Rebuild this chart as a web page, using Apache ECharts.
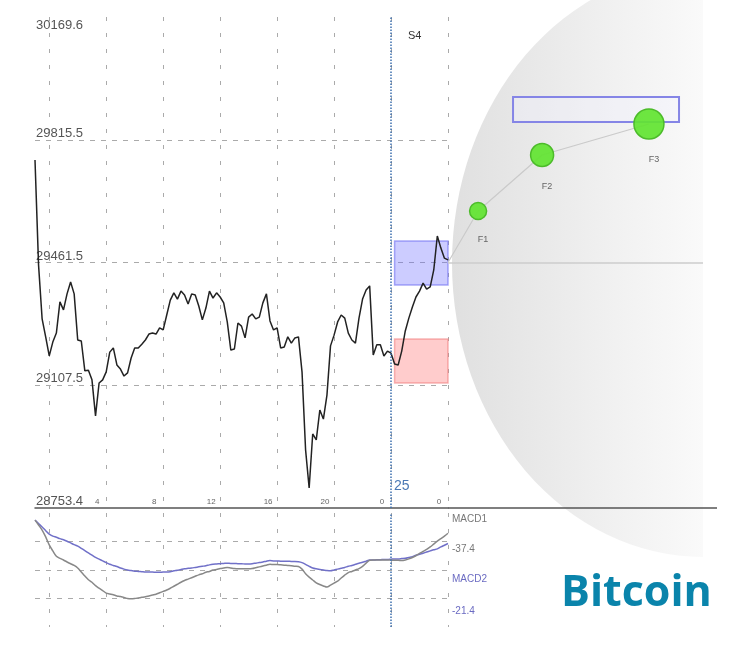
<!DOCTYPE html>
<html>
<head>
<meta charset="utf-8">
<script src="https://cdn.jsdelivr.net/npm/echarts@6/dist/echarts.min.js"></script>
<style>
html,body{margin:0;padding:0;background:#fff;}
#main{width:750px;height:650px;}
</style>
</head>
<body>
<div id="main"></div>
<script>
// price, 15 min steps
var prices = [29757,29454,29299,29247,29192,29232,29258,29348,29325,29371,
  29405,29371,29238,29235,29149,29151,29123,29019,29114,29123,
  29146,29203,29215,29166,29154,29134,29143,29186,29215,29215,
  29226,29238,29255,29258,29255,29273,29267,29310,29353,29374,
  29356,29379,29368,29342,29371,29368,29336,29296,29330,29379,
  29359,29374,29362,29345,29290,29209,29212,29287,29278,29244,
  29304,29313,29299,29304,29345,29371,29293,29267,29273,29215,
  29218,29247,29229,29244,29247,29146,28921,28811,28967,28950,
  29036,29010,29079,29221,29252,29290,29310,29301,29258,29238,
  29229,29301,29356,29382,29394,29195,29224,29224,29192,29206,
  29200,29169,29166,29206,29264,29301,29333,29362,29379,29402,
  29385,29391,29440,29538,29503,29474,29469];

var macd1 = [-0.25,-0.42,-0.60,-0.84,-1.12,-1.33,-1.52,-1.59,-1.65,-1.72,
  -1.78,-1.84,-1.93,-2.07,-2.21,-2.34,-2.43,-2.55,-2.64,-2.72,
  -2.81,-2.84,-2.87,-2.91,-2.93,-2.96,-3.00,-3.01,-3.00,-2.98,
  -2.96,-2.94,-2.91,-2.88,-2.85,-2.80,-2.75,-2.70,-2.64,-2.57,
  -2.50,-2.43,-2.37,-2.32,-2.27,-2.22,-2.17,-2.13,-2.08,-2.05,
  -2.00,-1.98,-1.95,-1.93,-1.91,-1.93,-1.95,-1.96,-1.96,-1.96,
  -1.96,-1.95,-1.92,-1.89,-1.86,-1.83,-1.80,-1.81,-1.81,-1.82,
  -1.83,-1.84,-1.85,-1.87,-1.88,-1.97,-2.13,-2.25,-2.35,-2.45,
  -2.51,-2.56,-2.60,-2.53,-2.46,-2.39,-2.28,-2.18,-2.09,-2.05,
  -2.00,-1.95,-1.87,-1.76,-1.66,-1.65,-1.65,-1.65,-1.65,-1.65,
  -1.65,-1.66,-1.66,-1.67,-1.65,-1.61,-1.56,-1.50,-1.42,-1.35,
  -1.28,-1.19,-1.09,-0.99,-0.90,-0.81,-0.71];

var macd2 = [-0.25,-0.37,-0.49,-0.62,-0.74,-0.81,-0.85,-0.90,-0.94,-0.99,
  -1.05,-1.11,-1.16,-1.24,-1.32,-1.40,-1.48,-1.56,-1.62,-1.68,
  -1.74,-1.80,-1.84,-1.88,-1.93,-1.97,-2.00,-2.02,-2.04,-2.05,
  -2.06,-2.07,-2.07,-2.07,-2.08,-2.08,-2.07,-2.07,-2.06,-2.03,
  -2.01,-1.98,-1.96,-1.94,-1.93,-1.91,-1.89,-1.87,-1.85,-1.82,
  -1.80,-1.79,-1.78,-1.77,-1.76,-1.77,-1.77,-1.78,-1.78,-1.79,
  -1.79,-1.78,-1.76,-1.74,-1.72,-1.69,-1.67,-1.68,-1.68,-1.69,
  -1.69,-1.69,-1.70,-1.70,-1.71,-1.74,-1.80,-1.87,-1.93,-1.96,
  -1.98,-2.00,-2.02,-2.03,-2.00,-1.97,-1.94,-1.91,-1.87,-1.84,
  -1.80,-1.76,-1.73,-1.69,-1.65,-1.65,-1.64,-1.64,-1.63,-1.63,
  -1.62,-1.61,-1.61,-1.60,-1.59,-1.56,-1.53,-1.48,-1.45,-1.41,
  -1.37,-1.33,-1.29,-1.26,-1.19,-1.13,-1.07];

var priceMin = 28753.4, priceMax = 30169.6;
var priceTicks = ['28753.4','29107.5','29461.5','29815.5','30169.6'];
var timeTickIndex = [20,36,52,68,84,100,116];
var timeTickLabels = ['4','8','12','16','20','0','0'];
var macdTicks = ['','-21.4','MACD2','-37.4','MACD1'];
var macdTickStyle = ['g1','b4','b2','g3','g1'];

var markIndex = 100;
var upBox = [[101,29396.5],[116,29523.5]];
var downBox = [[101,29113.9],[116,29240.8]];

var fanNames = ['','F1','F2','F3'];
var fanX = [0,11.8,36.9,78.8];
var fanY = [29461.5,29610,29771.6,29861];
var fanSizes = [0,17,23,30];
var fanBox = [[25.5,29866.7],[90.6,29938.8]];

var xCats = prices.map(function (v, i) { return String(i); });

var vGrid = {
  show: true,
  interval: function (i) { return i >= 4 && (i - 4) % 16 === 0; },
  lineStyle: { color: '#aaa', type: [4, 12], width: 1 }
};
var hDash = { color: '#aaa', type: [5, 6], width: 1 };
var blueDot = { color: '#3d6fae', type: 'dotted', width: 1.5 };

var chart = echarts.init(document.getElementById('main'));
chart.setOption({
  animation: false,
  textStyle: { fontFamily: 'Liberation Sans, Arial, sans-serif' },
  grid: [
    { left: 35, right: 302, top: 17, bottom: 142 },
    { left: 35, right: 302, top: 513, bottom: 23 },
    { left: 448, right: 47, top: 17, bottom: 142 }
  ],
  xAxis: [
    {
      type: 'category', gridIndex: 0, data: xCats, boundaryGap: false,
      axisLine: { show: true, onZero: false, lineStyle: { color: '#555', width: 1.5 } },
      axisTick: { show: false },
      axisLabel: {
        inside: true, margin: 2, fontSize: 8, color: '#666', align: 'center',
        padding: [0, 18, 0, 0],
        interval: function (i) { return timeTickIndex.indexOf(i) >= 0; },
        formatter: function (v, i) { var k = timeTickIndex.indexOf(i); return k >= 0 ? timeTickLabels[k] : ''; }
      },
      splitLine: vGrid
    },
    {
      type: 'category', gridIndex: 1, data: xCats, boundaryGap: false,
      axisLine: { show: false }, axisTick: { show: false }, axisLabel: { show: false },
      splitLine: vGrid
    },
    { type: 'value', gridIndex: 2, min: 0, max: 100, show: false }
  ],
  yAxis: [
    {
      type: 'value', gridIndex: 0, min: priceMin, max: priceMax, interval: (priceMax - priceMin) / 4,
      axisLine: { show: false }, axisTick: { show: false },
      axisLabel: {
        inside: true, margin: 1, fontSize: 13, color: '#555', verticalAlign: 'bottom',
        formatter: function (v, i) { return i < 4 ? priceTicks[i] : ''; }
      },
      splitLine: { show: true, showMinLine: false, showMaxLine: false, lineStyle: hDash }
    },
    {
      type: 'value', gridIndex: 0, position: 'left', min: priceMin, max: priceMax, interval: (priceMax - priceMin) / 4,
      axisLine: { show: false }, axisTick: { show: false }, splitLine: { show: false },
      axisLabel: {
        inside: true, margin: 1, fontSize: 13, color: '#555', verticalAlign: 'top', padding: [2, 0, 0, 0],
        formatter: function (v, i) { return i === 4 ? priceTicks[4] : ''; }
      }
    },
    {
      type: 'value', gridIndex: 1, position: 'right', min: -4, max: 0, interval: 1,
      axisLine: { show: false }, axisTick: { show: false },
      axisLabel: {
        margin: 4, fontSize: 10, verticalAlign: 'top',
        formatter: function (v, i) { return macdTicks[i] ? '{' + macdTickStyle[i] + '|' + macdTicks[i] + '}' : ''; },
        rich: {
          g1: { color: '#777', fontSize: 10, padding: [1, 0, 0, 0] },
          g3: { color: '#777', fontSize: 10, padding: [3, 0, 0, 0] },
          b2: { color: '#6b6bc2', fontSize: 10, padding: [4, 0, 0, 0] },
          b4: { color: '#6b6bc2', fontSize: 10, padding: [8, 0, 0, 0] }
        }
      },
      splitLine: { show: true, showMinLine: false, showMaxLine: false, lineStyle: hDash }
    },
    { type: 'value', gridIndex: 2, min: priceMin, max: priceMax, show: false }
  ],
  graphic: [
    {
      type: 'sector', x: 703, y: 263, scaleX: 251 / 294, z: -10, silent: true,
      shape: { cx: 0, cy: 0, r: 294, r0: 0, startAngle: Math.PI / 2, endAngle: Math.PI * 1.5, clockwise: true },
      style: {
        fill: { type: 'linear', x: 0, y: 0, x2: 1, y2: 0,
          colorStops: [{ offset: 0, color: '#e0e0e0' }, { offset: 1, color: '#fafafa' }] }
      }
    },
    { type: 'line', silent: true, shape: { x1: 448, y1: 508, x2: 717, y2: 508 }, style: { stroke: '#555', lineWidth: 1.5 } },
    { type: 'text', silent: true, style: { text: '25', x: 394, y: 486, fill: '#4a78b4', font: '14px Liberation Sans, Arial, sans-serif', verticalAlign: 'middle' } },
    { type: 'text', silent: true, style: { text: 'S4', x: 408, y: 36, fill: '#333', font: '11px Liberation Sans, Arial, sans-serif', verticalAlign: 'middle' } },
    { type: 'text', silent: true, z: 20, style: { text: 'Bitcoin', x: 561, y: 594, fill: '#0a84ab', font: 'bold 43px Open Sans, sans-serif', verticalAlign: 'middle' } }
  ],
  series: [
    {
      name: 'price', type: 'line', xAxisIndex: 0, yAxisIndex: 0, data: prices,
      symbol: 'none', lineStyle: { color: '#222', width: 1.5 },
      markLine: { silent: true, symbol: 'none', label: { show: false }, lineStyle: blueDot, data: [{ xAxis: markIndex }] },
      markArea: {
        silent: true,
        data: [
          [{ xAxis: upBox[0][0], yAxis: upBox[0][1], itemStyle: { color: 'rgba(110,110,255,0.35)', borderColor: 'rgba(100,100,240,0.55)', borderWidth: 1.5 } },
           { xAxis: upBox[1][0], yAxis: upBox[1][1] }],
          [{ xAxis: downBox[0][0], yAxis: downBox[0][1], itemStyle: { color: 'rgba(255,110,110,0.35)', borderColor: 'rgba(240,110,110,0.5)', borderWidth: 1.5 } },
           { xAxis: downBox[1][0], yAxis: downBox[1][1] }]
        ]
      }
    },
    {
      name: 'MACD2', type: 'line', xAxisIndex: 1, yAxisIndex: 2, data: macd2,
      symbol: 'none', smooth: 0.3, lineStyle: { color: '#7070c8', width: 1.5 }
    },
    {
      name: 'MACD1', type: 'line', xAxisIndex: 1, yAxisIndex: 2, data: macd1,
      symbol: 'none', smooth: 0.3, lineStyle: { color: '#888', width: 1.5 },
      markLine: { silent: true, symbol: 'none', label: { show: false }, lineStyle: blueDot, data: [{ xAxis: markIndex }] }
    },
    {
      name: 'fan', type: 'line', xAxisIndex: 2, yAxisIndex: 3,
      data: fanX.map(function (x, i) {
        return { name: fanNames[i], value: [x, fanY[i]], symbolSize: fanSizes[i], symbol: i === 0 ? 'none' : 'circle' };
      }),
      showSymbol: true,
      lineStyle: { color: '#cacaca', width: 1.2 },
      itemStyle: { color: 'rgba(98,228,50,0.93)', borderColor: '#4cbb2a', borderWidth: 1.5 },
      label: { show: true, position: 'bottom', distance: 15, offset: [5, 0], formatter: '{b}', fontSize: 9, color: '#666' },
      markLine: { silent: true, symbol: 'none', label: { show: false }, lineStyle: { color: '#cccccc', type: 'solid', width: 1.5 }, data: [{ yAxis: fanY[0] }] },
      markArea: {
        silent: true,
        data: [[{ xAxis: fanBox[0][0], yAxis: fanBox[0][1], itemStyle: { color: 'rgba(240,240,255,0.35)', borderColor: '#8585e6', borderWidth: 2 } },
                { xAxis: fanBox[1][0], yAxis: fanBox[1][1] }]]
      }
    }
  ]
});
</script>
</body>
</html>
